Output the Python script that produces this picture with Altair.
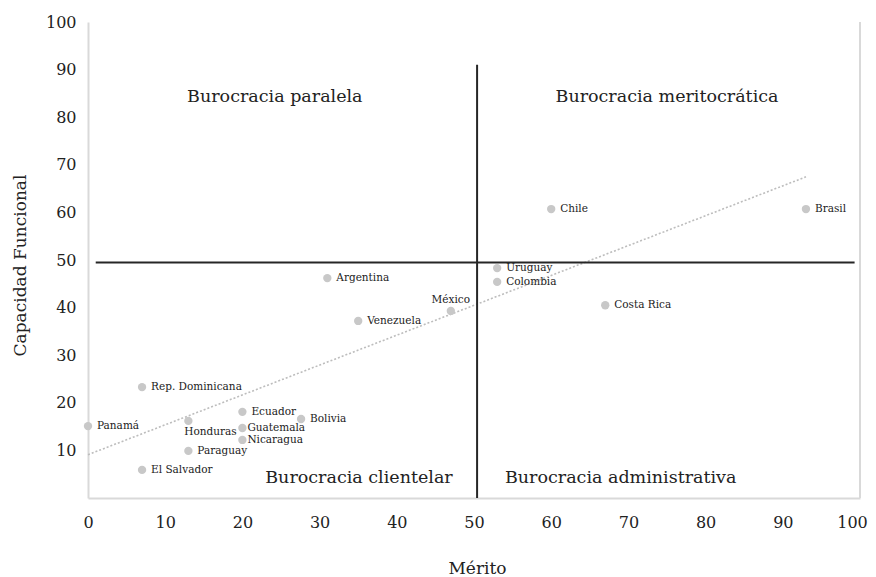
import altair as alt
import pandas as pd

# ---- data ----
countries = ["Panamá", "Rep. Dominicana", "El Salvador", "Honduras", "Paraguay",
             "Ecuador", "Guatemala", "Nicaragua", "Bolivia", "Argentina",
             "Venezuela", "México", "Uruguay", "Colombia", "Chile",
             "Costa Rica", "Brasil"]
merito = [0, 7, 7, 13, 13, 20, 20, 20, 27.6, 31, 35, 47, 53, 53, 60, 67, 93]
capacidad = [15.1, 23.3, 5.9, 16.2, 9.9, 18.1, 14.7, 12.2, 16.6, 46.2,
             37.2, 39.3, 48.3, 45.4, 60.7, 40.5, 60.7]

x_ticks = list(range(0, 101, 10))
y_ticks = list(range(10, 101, 10))

# quadrant divider lines
vline_x, vline_y0, vline_y1 = [50.4], [0], [91]
hline_y, hline_x0, hline_x1 = [49.5], [1], [99.3]

# quadrant labels
quad_text = ["Burocracia paralela", "Burocracia meritocrática",
             "Burocracia clientelar", "Burocracia administrativa"]
quad_x = [24.2, 75.0, 35.1, 69.0]
quad_y = [84.2, 84.2, 4.2, 4.2]

FONT = "DejaVu Serif"
GRAY_AX = "#d9d9d9"
PT = "#c8c8c8"

df = pd.DataFrame({"País": countries, "Mérito": merito, "Capacidad": capacidad})

xs = alt.Scale(domain=[0, 100], nice=False, zero=False)
ys = alt.Scale(domain=[0, 100], nice=False, zero=False)

x_axis = alt.Axis(values=x_ticks, grid=False, ticks=False, domainColor=GRAY_AX,
                  domainWidth=2, labelFont=FONT, labelFontSize=16, labelColor="#222",
                  labelPadding=16, labelFlush=False,
                  labelOffset={"condition": {"test": "datum.value == 100", "value": -8},
                               "value": 0},
                  title="Mérito", titleFont=FONT,
                  titleFontSize=17, titleFontWeight="normal", titleColor="#222",
                  titleX=389, titleY=70, titleBaseline="middle", titleAlign="center")
y_axis = alt.Axis(values=y_ticks, grid=False, ticks=False, domainColor=GRAY_AX,
                  domainWidth=2, labelFont=FONT, labelFontSize=16, labelColor="#222",
                  labelPadding=12, labelFlush=False, title="Capacidad Funcional",
                  titleFont=FONT, titleFontSize=17, titleFontWeight="normal",
                  titleColor="#222", titleX=-68, titleY=243, titleBaseline="middle",
                  titleAlign="center", titleAngle=270)

base = alt.Chart(df)

trend = base.transform_regression("Mérito", "Capacidad").mark_line(
    color="#bdbdbd", strokeWidth=1.6, strokeDash=[2, 2]
).encode(
    x=alt.X("Mérito:Q", scale=xs, axis=x_axis),
    y=alt.Y("Capacidad:Q", scale=ys, axis=y_axis),
)

border = alt.Chart(pd.DataFrame({"x": [100], "y": [0], "y2": [100]})).mark_rule(
    color=GRAY_AX, strokeWidth=2
).encode(x=alt.X("x:Q", scale=xs), y=alt.Y("y:Q", scale=ys), y2="y2:Q")

vline = alt.Chart(pd.DataFrame({"x": vline_x, "y": vline_y0, "y2": vline_y1})).mark_rule(
    color="#262626", strokeWidth=2
).encode(x=alt.X("x:Q", scale=xs), y=alt.Y("y:Q", scale=ys), y2="y2:Q")

hline = alt.Chart(pd.DataFrame({"y": hline_y, "x": hline_x0, "x2": hline_x1})).mark_rule(
    color="#262626", strokeWidth=2
).encode(y=alt.Y("y:Q", scale=ys), x=alt.X("x:Q", scale=xs), x2="x2:Q")

points = base.mark_circle(size=70, color=PT, opacity=1).encode(
    x=alt.X("Mérito:Q", scale=xs), y=alt.Y("Capacidad:Q", scale=ys)
)

special = ["Honduras", "México", "Guatemala", "Nicaragua"]
txt = dict(font=FONT, fontSize=10.5, color="#222", baseline="middle")
enc = dict(x=alt.X("Mérito:Q", scale=xs), y=alt.Y("Capacidad:Q", scale=ys), text="País:N")

lab_main = base.transform_filter(
    ~alt.FieldOneOfPredicate(field="País", oneOf=special)
).mark_text(align="left", dx=9, **txt).encode(**enc)
lab_close = base.transform_filter(
    alt.FieldOneOfPredicate(field="País", oneOf=["Guatemala", "Nicaragua"])
).mark_text(align="left", dx=5, **txt).encode(**enc)
lab_hond = base.transform_filter(alt.datum["País"] == "Honduras").mark_text(
    align="left", dx=-4, dy=11, **txt).encode(**enc)
lab_mex = base.transform_filter(alt.datum["País"] == "México").mark_text(
    align="center", dy=-11, **txt).encode(**enc)

quads = alt.Chart(pd.DataFrame({"t": quad_text, "x": quad_x, "y": quad_y})).mark_text(
    font=FONT, fontSize=17.5, color="#222", align="center", baseline="middle"
).encode(x=alt.X("x:Q", scale=xs), y=alt.Y("y:Q", scale=ys), text="t:N")

chart = alt.layer(
    trend, border, vline, hline, points, lab_main, lab_close, lab_hond, lab_mex, quads
).properties(
    width=772, height=476,
    autosize=alt.AutoSizeParams(type="none"),
    padding={"left": 80, "top": 14, "right": 8, "bottom": 79},
).configure_view(stroke=None)

chart.save("out.html", embed_options={"renderer": "svg", "actions": False})
